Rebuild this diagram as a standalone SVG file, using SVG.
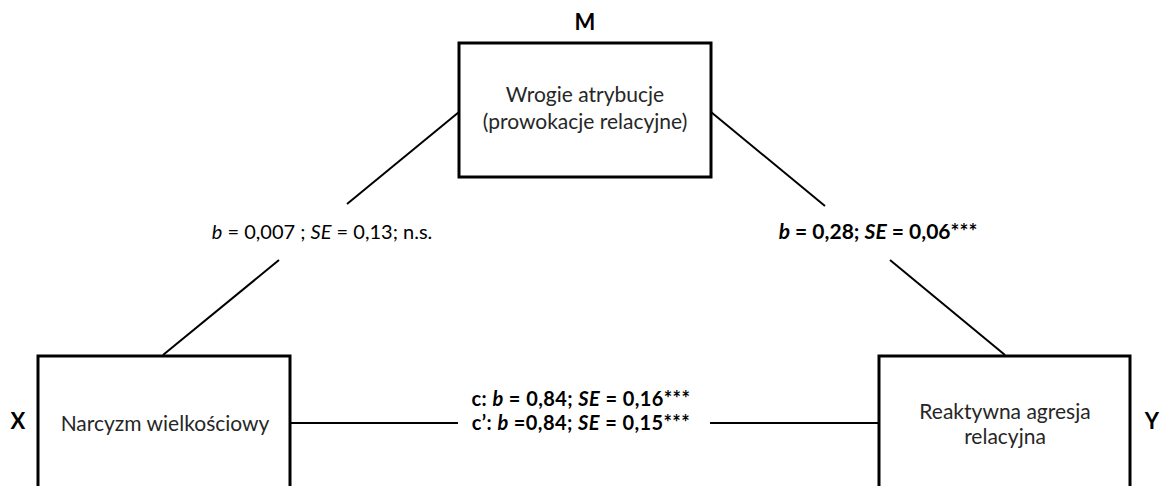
<svg xmlns="http://www.w3.org/2000/svg" width="1165" height="486" viewBox="0 0 1165 486">
<style>
.box{fill:#fff;stroke:#000;stroke-width:3}
.ln{stroke:#000;stroke-width:2;fill:none}
text{font-family:Lato,"Liberation Sans",sans-serif;font-size:20px;fill:#000}
.t{fill:#262626;text-anchor:middle;font-size:21px}
.lab{font-weight:bold;font-size:22px;text-anchor:middle}
.mid{text-anchor:middle}
.b{font-weight:bold;font-size:21px}
.c{font-weight:bold;font-size:20px;letter-spacing:0.4px}
.i{font-style:italic}
</style>
<rect width="1165" height="486" fill="#fff"/>
<g id="connectors">
<line class="ln" x1="459" y1="112" x2="347" y2="204"/>
<line class="ln" x1="279" y1="260" x2="163" y2="355"/>
<line class="ln" x1="711" y1="112" x2="825" y2="206"/>
<line class="ln" x1="890" y1="260" x2="1005" y2="355"/>
<line class="ln" x1="290" y1="423" x2="458" y2="423"/>
<line class="ln" x1="710" y1="423" x2="879" y2="423"/>
</g>
<g id="node-M">
<rect class="box" x="459" y="43" width="252" height="134"/>
<text class="lab" x="585" y="30">M</text>
<text class="t" x="585" y="102">Wrogie atrybucje</text>
<text class="t" x="585" y="129">(prowokacje relacyjne)</text>
</g>
<g id="node-X">
<rect class="box" x="38" y="356" width="252" height="150"/>
<text class="lab" x="18" y="429">X</text>
<text class="t" x="165" y="431">Narcyzm wielkościowy</text>
</g>
<g id="node-Y">
<rect class="box" x="879" y="356" width="251" height="150"/>
<text class="lab" x="1152" y="429">Y</text>
<text class="t" x="1005" y="419">Reaktywna agresja</text>
<text class="t" x="1005" y="444">relacyjna</text>
</g>
<g id="labels">
<text class="mid" x="322" y="239"><tspan class="i">b</tspan> = 0,007 ; <tspan class="i">SE</tspan> = 0,13; n.s.</text>
<text class="mid b" x="878" y="239"><tspan class="i">b</tspan> = 0,28; <tspan class="i">SE</tspan> = 0,06***</text>
<text class="mid c" x="581" y="406">c: <tspan class="i">b</tspan> = 0,84; <tspan class="i">SE</tspan> = 0,16***</text>
<text class="mid c" x="581" y="430">c’: <tspan class="i">b</tspan> =0,84; <tspan class="i">SE</tspan> = 0,15***</text>
</g>
</svg>
